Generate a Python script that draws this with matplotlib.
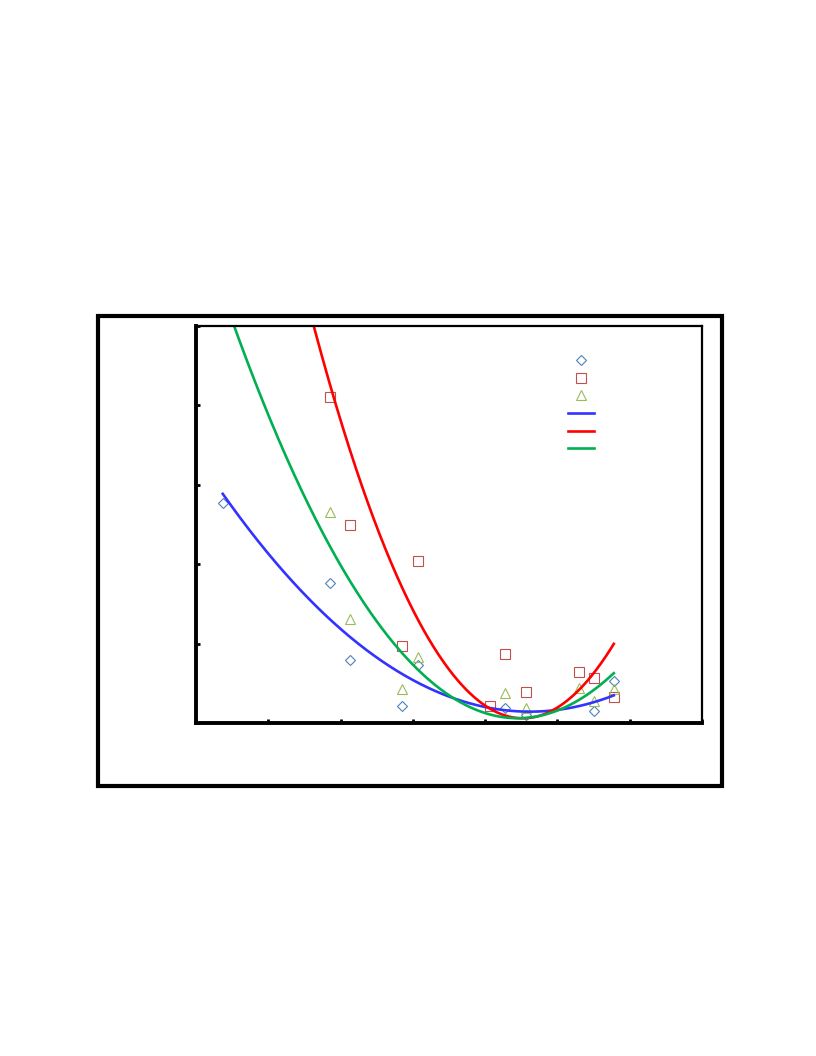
import numpy as np
import matplotlib
matplotlib.use("Agg")
import matplotlib.pyplot as plt
from matplotlib.patches import Rectangle
from matplotlib.lines import Line2D

# ---- data ----
blue_x = [0.37, 1.85, 2.13, 2.85, 3.07, 4.27, 4.56, 5.51, 5.78]
blue_y = [2.77, 1.76, 0.79, 0.21, 0.73, 0.19, 0.10, 0.15, 0.53]

red_x = [1.85, 2.13, 3.07, 2.85, 4.07, 4.27, 4.56, 5.30, 5.51, 5.78]
red_y = [4.11, 2.49, 2.04, 0.97, 0.21, 0.87, 0.39, 0.64, 0.57, 0.33]

green_x = [1.85, 2.13, 2.85, 3.07, 4.27, 4.56, 5.30, 5.51, 5.78]
green_y = [2.66, 1.31, 0.43, 0.83, 0.38, 0.19, 0.44, 0.28, 0.43]

# quadratic trendline coefficients (a, b, c)
blue_fit = [0.152, -1.404, 3.385]
red_fit = [0.591, -5.343, 12.135]
green_fit = [0.321, -2.857, 6.417]

fit_range = [0.37, 5.78]
x_ticks = [0, 1, 2, 3, 4, 5, 6, 7]
y_ticks = [0, 1, 2, 3, 4, 5]

# ---- figure ----
fig = plt.figure(figsize=(8.16, 10.56), dpi=100)
fig.patches.append(Rectangle((98 / 816, 1 - 786 / 1056), 624 / 816, 470 / 1056,
                             transform=fig.transFigure, fill=False,
                             edgecolor="black", linewidth=3.0, zorder=0))

ax = fig.add_axes([196 / 816, 1 - 723 / 1056, 506 / 816, 397 / 1056])

mk_blue, mk_red, mk_green = "#4F81BD", "#C0504D", "#9BBB59"
ln_blue, ln_red, ln_green = "#3333FF", "#FF0000", "#00B050"

ax.plot(blue_x, blue_y, linestyle="none", marker="D", markersize=5,
        markerfacecolor="none", markeredgecolor=mk_blue, markeredgewidth=0.8,
        clip_on=False)
ax.plot(red_x, red_y, linestyle="none", marker="s", markersize=7,
        markerfacecolor="none", markeredgecolor=mk_red, markeredgewidth=0.8,
        clip_on=False)
ax.plot(green_x, green_y, linestyle="none", marker="^", markersize=7,
        markerfacecolor="none", markeredgecolor=mk_green, markeredgewidth=0.8,
        clip_on=False)

xs = np.linspace(fit_range[0], fit_range[1], 400)
for coef, col in [(blue_fit, ln_blue), (red_fit, ln_red), (green_fit, ln_green)]:
    ax.plot(xs, np.polyval(coef, xs), color=col, linewidth=1.9)

ax.set_xlim(x_ticks[0], x_ticks[-1])
ax.set_ylim(y_ticks[0], y_ticks[-1])
ax.set_xticks(x_ticks)
ax.set_yticks(y_ticks)
ax.tick_params(direction="in", length=3, width=2, labelbottom=False,
               labelleft=False)
for side in ["left", "bottom"]:
    ax.spines[side].set_linewidth(2.8)
for side in ["top", "right"]:
    ax.spines[side].set_linewidth(1.6)

handles = [
    Line2D([], [], linestyle="none", marker="D", markersize=5,
           markerfacecolor="none", markeredgecolor=mk_blue, markeredgewidth=0.8),
    Line2D([], [], linestyle="none", marker="s", markersize=7,
           markerfacecolor="none", markeredgecolor=mk_red, markeredgewidth=0.8),
    Line2D([], [], linestyle="none", marker="^", markersize=7,
           markerfacecolor="none", markeredgecolor=mk_green, markeredgewidth=0.8),
    Line2D([], [], color=ln_blue, linewidth=1.9),
    Line2D([], [], color=ln_red, linewidth=1.9),
    Line2D([], [], color=ln_green, linewidth=1.9),
]
leg = ax.legend(handles, [""] * 6, loc="upper left",
                bbox_to_anchor=(568 / 816, 1 - 354 / 1056),
                bbox_transform=fig.transFigure, frameon=False,
                fontsize=10, handlelength=1.9, handleheight=0.7,
                labelspacing=0.26, borderpad=0, handletextpad=0,
                borderaxespad=0)

fig.savefig("out.png", dpi=100)
